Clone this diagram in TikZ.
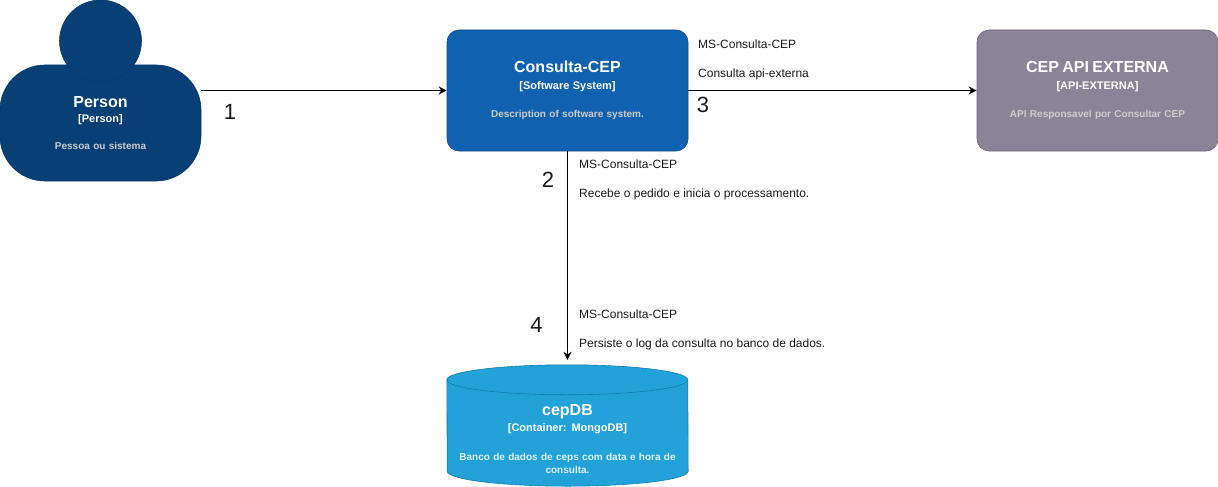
\documentclass[tikz,border=0pt]{standalone}
\usepackage{fontspec}
\setmainfont{Liberation Sans}
\usetikzlibrary{arrows.meta,calc}
\definecolor{personfill}{HTML}{083F75}
\definecolor{personline}{HTML}{073B6F}
\definecolor{sysfill}{HTML}{1061B0}
\definecolor{sysline}{HTML}{0D5091}
\definecolor{extfill}{HTML}{8B8496}
\definecolor{extline}{HTML}{6B6477}
\definecolor{dbfill}{HTML}{23A2D9}
\definecolor{dbline}{HTML}{0E7DAD}
\definecolor{descgray}{HTML}{CCCCCC}
\definecolor{inkdark}{HTML}{1A1A1A}
% #1 title, #2 kind, #3 description, #4 colour, #5 gap title-kind, #6 gap kind-description
\newcommand{\boxtext}[6]{{\fontsize{16}{12}\selectfont\bfseries #1}\\[#5]{\fontsize{11}{12}\selectfont\bfseries #2}\\[#6]{\fontsize{10}{12}\selectfont\bfseries\color{#4} #3}}
\tikzset{
  x=1pt,y=-1pt,
  boxbase/.style={rectangle,rounded corners=12pt,minimum width=241pt,minimum height=121pt,line width=.6pt,text=white,align=center,inner sep=4pt,text width=225pt,font=\fontsize{10}{12}\selectfont},
  flow/.style={draw=black,line width=1pt,-{Stealth[length=8pt,width=8pt,inset=2.5pt]}},
  edgelabel/.style={anchor=west,align=left,inner sep=0pt,font=\fontsize{12}{14.5}\selectfont,text=inkdark},
  stepnum/.style={inner sep=0pt,font=\fontsize{22}{24}\selectfont,text=inkdark}
}
\begin{document}
\begin{tikzpicture}
\useasboundingbox (0,0) rectangle (1218,487);
% person
\node[boxbase,rounded corners=45pt,minimum width=201pt,minimum height=116pt,text width=190pt,fill=personfill,draw=personline] (body) at (100.5,123) {\boxtext{Person}{[Person]}{Pessoa ou sistema}{descgray}{3.5pt}{14.5pt}};
\node[circle,minimum size=82pt,inner sep=0pt,fill=personfill,draw=personline,line width=.6pt] (head) at (100.5,41) {};
% software system
\node[boxbase,fill=sysfill,draw=sysline] (sys) at (567.5,90.5) {\boxtext{Consulta-CEP}{[Software System]}{Description of software system.}{descgray}{4.5pt}{16.5pt}};
% external API
\node[boxbase,fill=extfill,draw=extline] (api) at (1097.5,90.5) {\boxtext{CEP API EXTERNA}{[API-EXTERNA]}{API Responsavel por Consultar CEP}{descgray}{4.5pt}{16.5pt}};
% database
\node[rectangle,minimum width=241pt,minimum height=121pt,inner sep=0pt] (dbbox) at (567.5,425.5) {};
\path[fill=dbfill,draw=dbline,line width=.6pt]
  (dbbox.north west) ++(0,15)
  arc[start angle=180,end angle=0,x radius=120.5pt,y radius=15pt]
  -- ($(dbbox.south east)+(0,-15)$)
  arc[start angle=0,end angle=-180,x radius=120.5pt,y radius=15pt]
  -- cycle;
\draw[dbline,line width=.6pt] ($(dbbox.north west)+(0,15)$) arc[start angle=180,end angle=360,x radius=120.5pt,y radius=15pt];
\node[rectangle,text=white,align=center,inner sep=0pt,text width=235pt,font=\fontsize{10}{12}\selectfont] (dbtext) at (567.5,439) {\boxtext{cepDB}{[Container: MongoDB]}{Banco de dados de ceps com data e hora de\\[1.5pt]consulta.}{white!85!dbfill}{4pt}{17pt}};
% connectors
\draw[flow] (body.east |- sys.west) -- (sys.west);
\draw[flow] (sys.east) -- (api.west);
\draw[flow,shorten >=5pt] (sys.south) -- (dbbox.north);
% labels
\node[edgelabel] (lb3) at (698,59.5) {MS-Consulta-CEP\\[14.5pt]Consulta api-externa};
\node[edgelabel] (lb2) at (579,180) {MS-Consulta-CEP\\[15pt]Recebe o pedido e inicia o processamento.};
\node[edgelabel] (lb4) at (579,329.5) {MS-Consulta-CEP\\[14.5pt]Persiste o log da consulta no banco de dados.};
\node[stepnum] (n1) at (230,112) {1};
\node[stepnum] (n2) at (548,180) {2};
\node[stepnum] (n3) at (703,104.5) {3};
\node[stepnum] (n4) at (536.5,324.5) {4};
\end{tikzpicture}
\end{document}
